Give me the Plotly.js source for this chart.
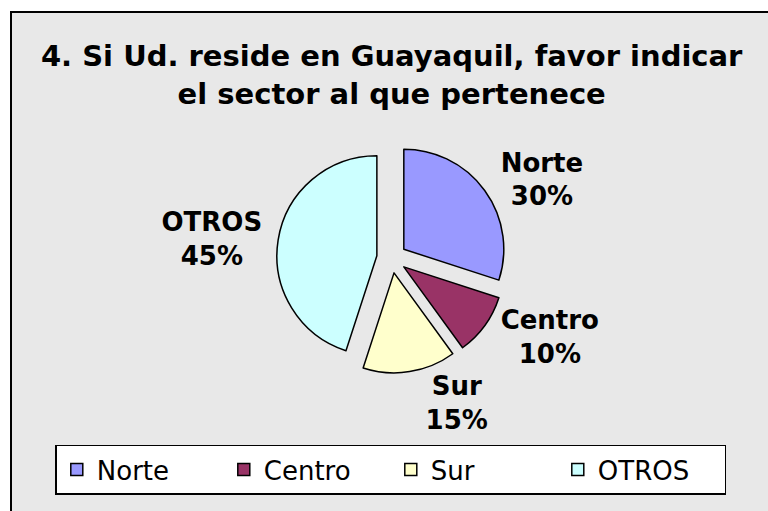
<!DOCTYPE html>
<html>
<head>
<meta charset="utf-8">
<script src="https://cdn.plot.ly/plotly-3.0.1.min.js"></script>
<style>
  html, body { margin: 0; padding: 0; background: #ffffff; }
  #frame { position: absolute; left: 10px; top: 11px; width: 770px; height: 520px; border: 2px solid #000; background: #e8e8e8; }
  #chart { position: absolute; left: 0; top: 0; width: 768px; height: 511px; }
</style>
</head>
<body>
<div id="frame"></div>
<div id="chart"></div>
<script>
const categories = ["Norte", "Centro", "Sur", "OTROS"];
const percentages = [30, 10, 15, 45];
const sliceColors = ["#9999ff", "#993366", "#ffffcc", "#ccffff"];
const chartTitle = "4. Si Ud. reside en Guayaquil, favor indicar<br>el sector al que pertenece";

const trace = {
  type: "pie",
  labels: categories,
  values: percentages,
  sort: false,
  direction: "clockwise",
  rotation: 0,
  pull: [0.15, 0.15, 0.15, 0.15],
  marker: { colors: sliceColors, line: { color: "#000000", width: 1.5 } },
  textposition: "outside",
  texttemplate: "<b>%{label}<br>%{percent}</b>",
  textfont: { family: "DejaVu Sans", size: 26, color: "#000000" },
  hoverinfo: "label+percent",
  domain: { x: [0.25, 0.77], y: [0.27, 0.72] }
};

const layout = {
  width: 768,
  height: 511,
  margin: { l: 0, r: 0, t: 0, b: 0 },
  paper_bgcolor: "rgba(0,0,0,0)",
  plot_bgcolor: "rgba(0,0,0,0)",
  title: {
    text: "<b>" + chartTitle + "</b>",
    font: { family: "DejaVu Sans", size: 29, color: "#000000" },
    x: 0.51, xanchor: "center",
    y: 0.87, yanchor: "top"
  },
  showlegend: true,
  legend: {
    orientation: "h",
    x: 0.072, xanchor: "left",
    y: 0.13, yanchor: "top",
    bgcolor: "#ffffff",
    bordercolor: "#000000",
    borderwidth: 1.5,
    font: { family: "DejaVu Sans", size: 26, color: "#000000" },
    entrywidth: 122,
    entrywidthmode: "pixels",
    traceorder: "normal"
  }
};

Plotly.newPlot("chart", [trace], layout, { displayModeBar: false, staticPlot: true });
</script>
</body>
</html>
